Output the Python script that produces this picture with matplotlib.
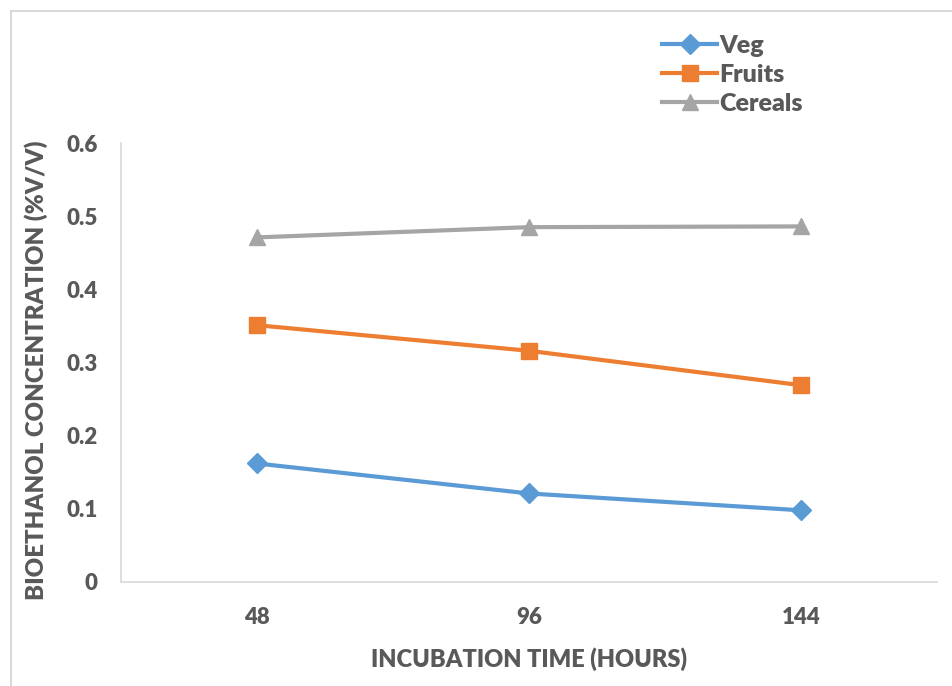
import matplotlib
matplotlib.use("Agg")
import matplotlib.pyplot as plt
from matplotlib.lines import Line2D

categories = ["48", "96", "144"]
veg = [0.162, 0.121, 0.098]
fruits = [0.351, 0.316, 0.269]
cereals = [0.471, 0.485, 0.486]
series_names = ["Veg", "Fruits", "Cereals"]
y_ticks = [0, 0.1, 0.2, 0.3, 0.4, 0.5, 0.6]
y_tick_labels = ["0", "0.1", "0.2", "0.3", "0.4", "0.5", "0.6"]

plt.rcParams['font.family'] = ['Lato', 'DejaVu Sans']
W, H = 953, 686
fig = plt.figure(figsize=(W / 100, H / 100), dpi=100)
ax = fig.add_axes([121 / W, 1 - 582 / H, (937 - 121) / W, (582 - 143) / H])

txt = '#595959'
grid = '#D9D9D9'
wt = 'heavy'
x = list(range(len(categories)))
ax.plot(x, veg, color='#5B9BD5', lw=3, marker='D', ms=10, label=series_names[0])
ax.plot(x, fruits, color='#ED7D31', lw=3, marker='s', ms=11, label=series_names[1])
ax.plot(x, cereals, color='#A5A5A5', lw=3, marker='^', ms=12, label=series_names[2])

ax.set_xlim(-0.5, len(categories) - 0.5)
ax.set_ylim(0, 0.6)
ax.set_xticks(x)
ax.set_xticklabels(categories)
ax.set_yticks(y_ticks)
ax.set_yticklabels(y_tick_labels)
for s in ['top', 'right']:
    ax.spines[s].set_visible(False)
for s in ['left', 'bottom']:
    ax.spines[s].set_color(grid)
    ax.spines[s].set_linewidth(1.2)
ax.tick_params(axis='both', length=0, labelsize=16, labelcolor=txt)
for lab in ax.get_xticklabels() + ax.get_yticklabels():
    lab.set_fontweight(wt)
ax.tick_params(axis='x', pad=18)
ax.tick_params(axis='y', pad=17)
ax.set_xlabel("INCUBATION TIME (HOURS)", fontsize=17, fontweight=wt, color=txt, labelpad=14)
ax.set_ylabel("BIOETHANOL CONCENTRATION (%V/V)", fontsize=17.3, fontweight=wt, color=txt)
ax.yaxis.set_label_coords(-0.0895, 0.483)

leg = fig.legend(loc='upper left', bbox_to_anchor=(652 / W, 1 - 25 / H), frameon=False,
                 fontsize=18, handlelength=2.2, handletextpad=0.1, labelspacing=0.28,
                 borderaxespad=0)
for t in leg.get_texts():
    t.set_color(txt)
    t.set_fontweight(wt)

fig.add_artist(Line2D([10.5 / W, 10.5 / W], [0, 1 - 10.5 / H], transform=fig.transFigure, color=grid, lw=1.5))
fig.add_artist(Line2D([10.5 / W, 1], [1 - 10.5 / H, 1 - 10.5 / H], transform=fig.transFigure, color=grid, lw=1.5))

fig.savefig("out.png", dpi=100)
